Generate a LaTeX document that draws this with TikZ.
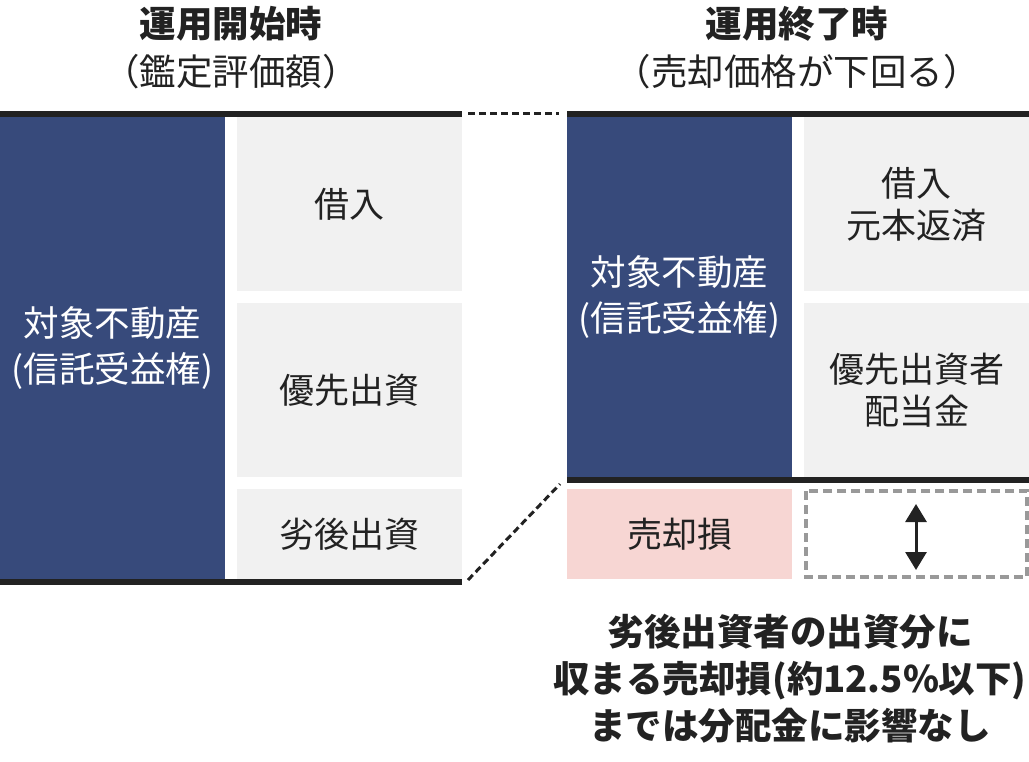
\documentclass[tikz,border=0pt]{standalone}
\usepackage{fontspec}
\setmainfont{Noto Sans CJK JP}
\usetikzlibrary{arrows.meta}

\definecolor{assetblue}{HTML}{374A7B}
\definecolor{boxgray}{HTML}{F1F1F1}
\definecolor{losspink}{HTML}{F7D6D3}
\definecolor{barblack}{HTML}{222222}
\definecolor{dashgray}{HTML}{999999}

\tikzset{
  asset/.style={fill=assetblue, text=white, anchor=north west, inner sep=0pt,
                align=center, font=\fontsize{35.5}{46}\selectfont},
  layer/.style={fill=boxgray, text=barblack, anchor=north west, inner sep=0pt,
                align=center, font=\fontsize{35}{42}\selectfont},
  heading/.style={text=barblack, align=center, font=\fontsize{36.5}{48}\selectfont},
  zoomline/.style={barblack, line width=3pt, dash pattern=on 7pt off 4pt}
}

\begin{document}
\begin{tikzpicture}[x=1pt,y=-1pt]
        \useasboundingbox (0,0) rectangle (1029,762);

        %Start of operation
        \node [heading] (titleL) at (231,24)  {\bfseries 運用開始時};
        \node [heading] (subL)   at (231,72)  {（鑑定評価額）};

        \fill [barblack] (0,111) rectangle (462,117);
        \node [asset, minimum width=225pt, minimum height=462pt] (assetL) at (0,117)
              {対象不動産\\(信託受益権)};
        \node [layer, minimum width=225pt, minimum height=174pt] (loanL)   at (237,117) {借入};
        \node [layer, minimum width=225pt, minimum height=174pt] (prefL)   at (237,303) {優先出資};
        \node [layer, minimum width=225pt, minimum height=90pt]  (subordL) at (237,489) {劣後出資};
        \fill [barblack] (0,579) rectangle (462,585);

        %End of operation
        \node [heading] (titleR) at (797,24)  {\bfseries 運用終了時};
        \node [heading] (subR)   at (797,72)  {（売却価格が下回る）};

        \fill [barblack] (567,111) rectangle (1029,117);
        \node [asset, minimum width=225pt, minimum height=360pt] (assetR) at (567,117)
              {対象不動産\\(信託受益権)};
        \node [layer, minimum width=225pt, minimum height=174pt] (loanR) at (804,117) {借入\\元本返済};
        \node [layer, minimum width=225pt, minimum height=174pt] (prefR) at (804,303) {優先出資者\\配当金};
        \fill [barblack] (567,477) rectangle (1029,483);
        \node [layer, fill=losspink, minimum width=225pt, minimum height=90pt] (lossR) at (567,489) {売却損};

        %Absorbed loss
        \draw [dashgray, line width=4pt, dash pattern=on 9pt off 5pt] (806,491) rectangle (1027,577);
        \coordinate (rangeTop) at (916,504);
        \coordinate (rangeBot) at (916,570);
        \draw [barblack, line width=3pt, {Triangle[length=18pt,width=21pt]}-{Triangle[length=18pt,width=21pt]}]
              (rangeTop) -- (rangeBot);

        %Zoom lines
        \coordinate (zoomTopL) at (468,114);
        \coordinate (zoomTopR) at (559,114);
        \coordinate (zoomBotL) at (468,580);
        \coordinate (zoomBotR) at (560,484);
        \draw [zoomline] (zoomTopL) -- (zoomTopR);
        \draw [zoomline] (zoomBotL) -- (zoomBotR);

        %Note
        \node [heading, font=\fontsize{36.5}{47}\selectfont\bfseries] (note) at (790,679)
              {劣後出資者の出資分に\\収まる売却損(約12.5\%以下)\\までは分配金に影響なし};

\end{tikzpicture}
\end{document}
